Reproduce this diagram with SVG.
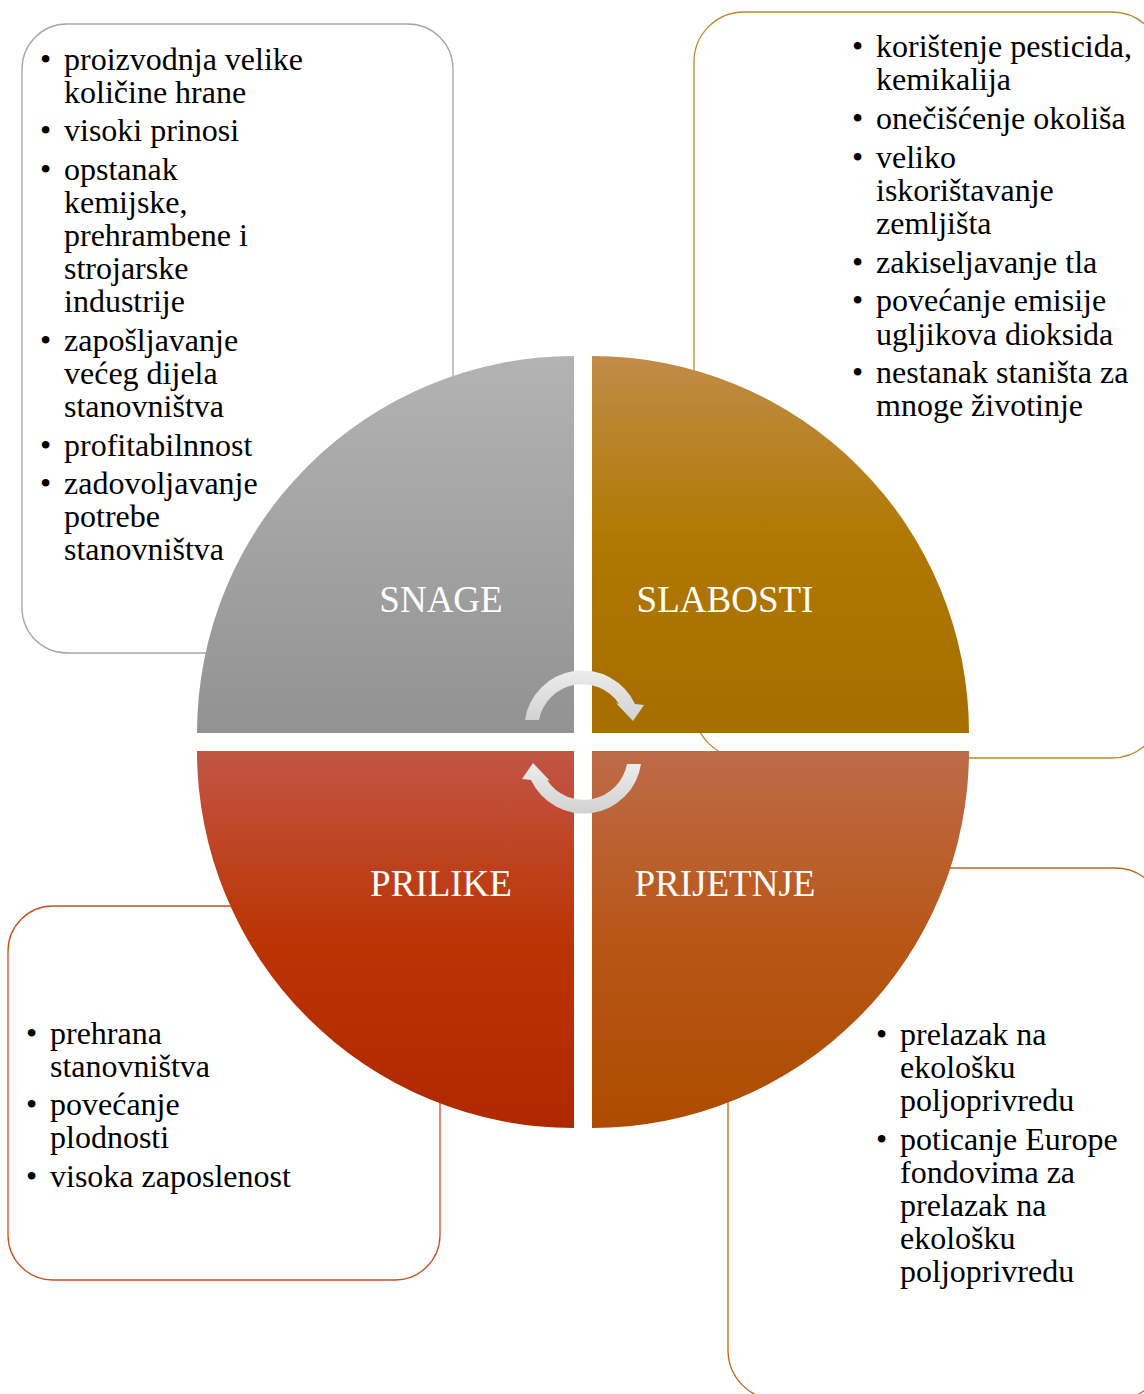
<svg xmlns="http://www.w3.org/2000/svg" width="1144" height="1394" viewBox="0 0 1144 1394">
<style>
.box{fill:#fff;stroke-width:1.3}
.t{font-family:"Liberation Serif","Times New Roman",serif;font-size:32px;fill:#000}
.lbl{font-family:"Liberation Serif","Times New Roman",serif;font-size:37px;fill:#fff;text-anchor:middle}
</style>
<defs>
<linearGradient id="gTL" x1="0" y1="0" x2="0" y2="1"><stop offset="0" stop-color="#b3b3b3"/><stop offset="1" stop-color="#929292"/></linearGradient>
<linearGradient id="gTR" x1="0" y1="0" x2="0" y2="1"><stop offset="0" stop-color="#c08c48"/><stop offset="0.5" stop-color="#b07800"/><stop offset="1" stop-color="#a66d00"/></linearGradient>
<linearGradient id="gBL" x1="0" y1="0" x2="0" y2="1"><stop offset="0" stop-color="#c25545"/><stop offset="0.5" stop-color="#bb3404"/><stop offset="1" stop-color="#b02800"/></linearGradient>
<linearGradient id="gBR" x1="0" y1="0" x2="0" y2="1"><stop offset="0" stop-color="#be6b49"/><stop offset="0.5" stop-color="#b85617"/><stop offset="1" stop-color="#ad4c00"/></linearGradient>
<linearGradient id="gA1" x1="0" y1="0" x2="0" y2="1"><stop offset="0" stop-color="#ececec"/><stop offset="1" stop-color="#d2d2d2"/></linearGradient>
<linearGradient id="gA2" x1="0" y1="1" x2="0" y2="0"><stop offset="0" stop-color="#ececec"/><stop offset="1" stop-color="#d2d2d2"/></linearGradient>
</defs>

<g id="box-snage">
<rect class="box" x="22" y="24" width="431" height="629" rx="45" stroke="#a6a6a6"/>
<text class="t">
<tspan x="40" y="70">•</tspan><tspan x="64" y="70">proizvodnja velike</tspan>
<tspan x="64" y="103">količine hrane</tspan>
<tspan x="40" y="141">•</tspan><tspan x="64" y="141">visoki prinosi</tspan>
<tspan x="40" y="180">•</tspan><tspan x="64" y="180">opstanak</tspan>
<tspan x="64" y="213">kemijske,</tspan>
<tspan x="64" y="246">prehrambene i</tspan>
<tspan x="64" y="279">strojarske</tspan>
<tspan x="64" y="312">industrije</tspan>
<tspan x="40" y="351">•</tspan><tspan x="64" y="351">zapošljavanje</tspan>
<tspan x="64" y="384">većeg dijela</tspan>
<tspan x="64" y="417">stanovništva</tspan>
<tspan x="40" y="456">•</tspan><tspan x="64" y="456">profitabilnnost</tspan>
<tspan x="40" y="494">•</tspan><tspan x="64" y="494">zadovoljavanje</tspan>
<tspan x="64" y="527">potrebe</tspan>
<tspan x="64" y="560">stanovništva</tspan>
</text>
</g>

<g id="box-slabosti">
<rect class="box" x="694" y="12" width="468" height="746" rx="50" stroke="#bb8a30"/>
<text class="t">
<tspan x="852" y="57">•</tspan><tspan x="876" y="57">korištenje pesticida,</tspan>
<tspan x="876" y="90">kemikalija</tspan>
<tspan x="852" y="129">•</tspan><tspan x="876" y="129">onečišćenje okoliša</tspan>
<tspan x="852" y="168">•</tspan><tspan x="876" y="168">veliko</tspan>
<tspan x="876" y="201">iskorištavanje</tspan>
<tspan x="876" y="234">zemljišta</tspan>
<tspan x="852" y="273">•</tspan><tspan x="876" y="273">zakiseljavanje tla</tspan>
<tspan x="852" y="311">•</tspan><tspan x="876" y="311">povećanje emisije</tspan>
<tspan x="876" y="345">ugljikova dioksida</tspan>
<tspan x="852" y="383">•</tspan><tspan x="876" y="383">nestanak staništa za</tspan>
<tspan x="876" y="416">mnoge životinje</tspan>
</text>
</g>

<g id="box-prijetnje">
<rect class="box" x="728" y="868" width="437" height="532" rx="50" stroke="#c0661c"/>
<text class="t">
<tspan x="876" y="1045">•</tspan><tspan x="900" y="1045">prelazak na</tspan>
<tspan x="900" y="1078">ekološku</tspan>
<tspan x="900" y="1111">poljoprivredu</tspan>
<tspan x="876" y="1150">•</tspan><tspan x="900" y="1150">poticanje Europe</tspan>
<tspan x="900" y="1183">fondovima za</tspan>
<tspan x="900" y="1216">prelazak na</tspan>
<tspan x="900" y="1249">ekološku</tspan>
<tspan x="900" y="1282">poljoprivredu</tspan>
</text>
</g>

<g id="box-prilike">
<rect class="box" x="8" y="906" width="432" height="374" rx="45" stroke="#c5511f"/>
<text class="t">
<tspan x="26" y="1044">•</tspan><tspan x="50" y="1044">prehrana</tspan>
<tspan x="50" y="1077">stanovništva</tspan>
<tspan x="26" y="1115">•</tspan><tspan x="50" y="1115">povećanje</tspan>
<tspan x="50" y="1148">plodnosti</tspan>
<tspan x="26" y="1187">•</tspan><tspan x="50" y="1187">visoka zaposlenost</tspan>
</text>
</g>

<g id="q-snage">
<path d="M574,733 L197,733 A377,377 0 0 1 574,356 Z" fill="url(#gTL)"/>
<text class="lbl" x="441" y="612">SNAGE</text>
</g>
<g id="q-slabosti">
<path d="M592,733 L592,356 A377,377 0 0 1 969,733 Z" fill="url(#gTR)"/>
<text class="lbl" x="725" y="612">SLABOSTI</text>
</g>
<g id="q-prilike">
<path d="M574,751 L574,1128 A377,377 0 0 1 197,751 Z" fill="url(#gBL)"/>
<text class="lbl" x="441" y="896">PRILIKE</text>
</g>
<g id="q-prijetnje">
<path d="M592,751 L969,751 A377,377 0 0 1 592,1128 Z" fill="url(#gBR)"/>
<text class="lbl" x="725" y="896">PRIJETNJE</text>
</g>

<g id="connectors">
<path d="M525,720 A58,58 0 0 1 635,704 L644,705 L633,721 L616,703 L619,704 A44,44 0 0 0 539,720 Z" fill="url(#gA1)"/>
<path d="M525,720 A58,58 0 0 1 635,704 L644,705 L633,721 L616,703 L619,704 A44,44 0 0 0 539,720 Z" fill="url(#gA2)" transform="rotate(180 583 742)"/>
</g>
</svg>
